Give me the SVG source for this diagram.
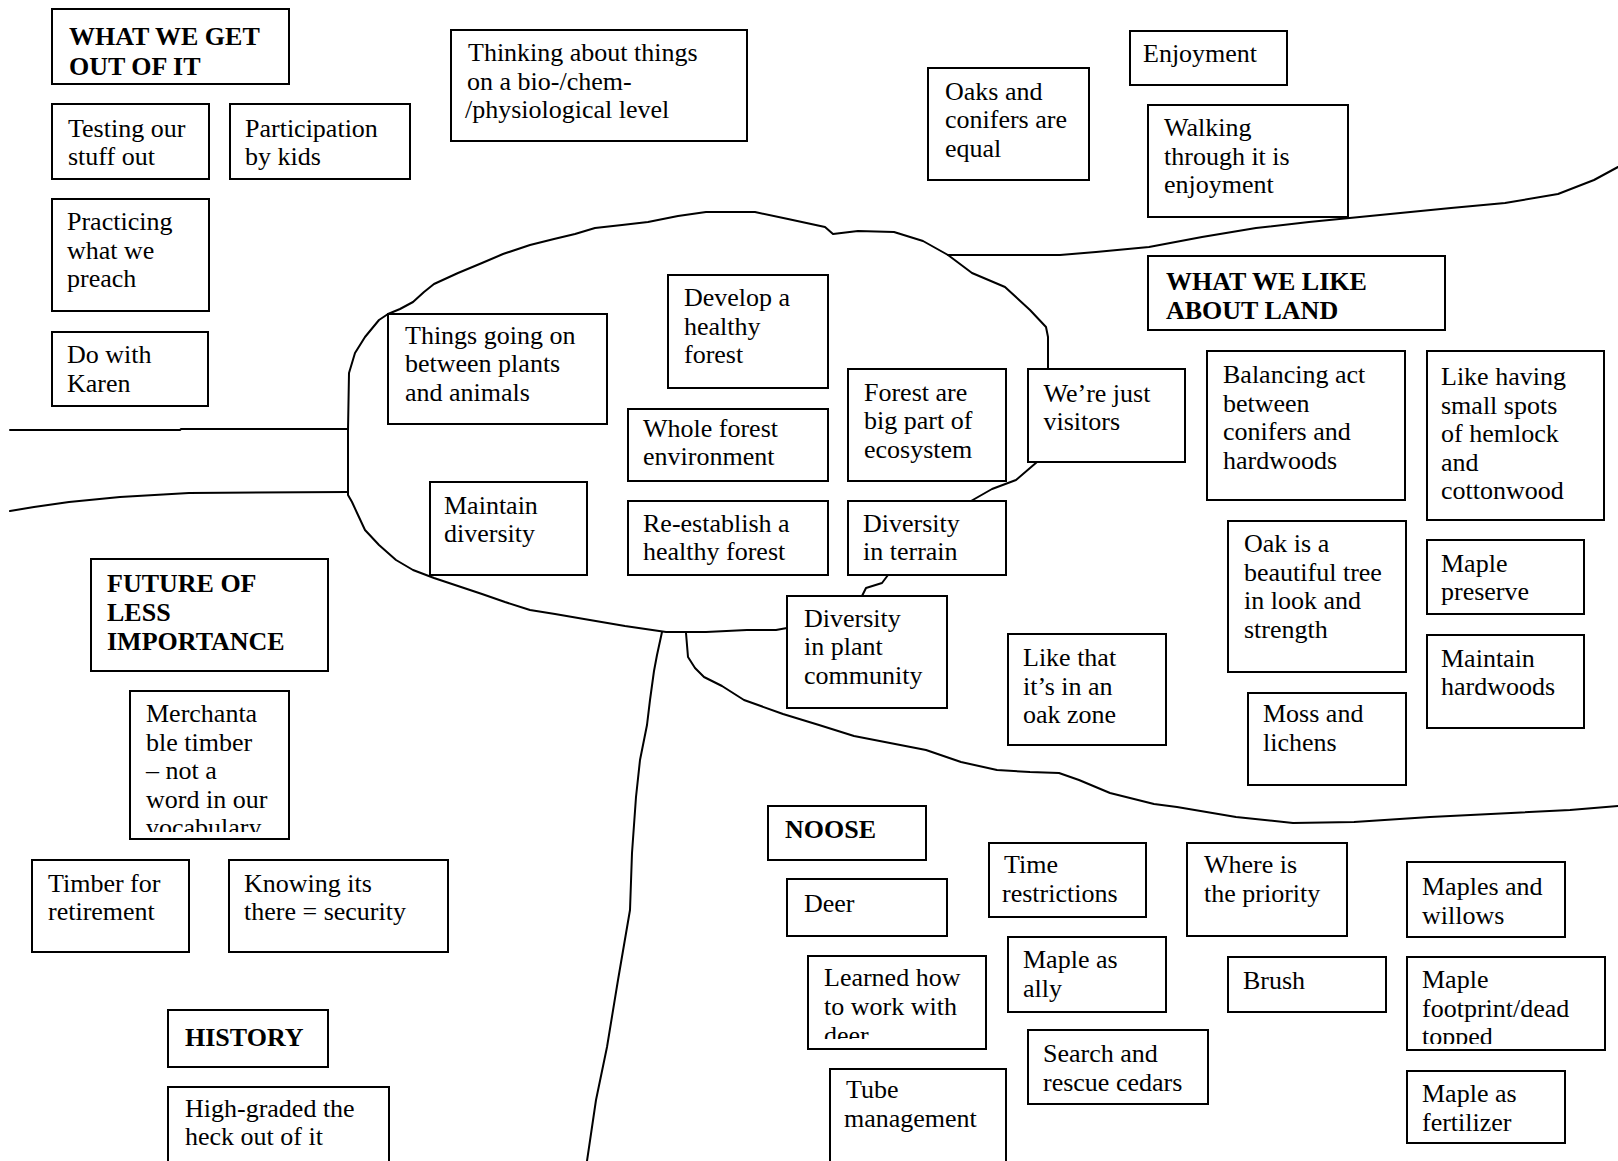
<svg xmlns="http://www.w3.org/2000/svg" width="1618" height="1161" viewBox="0 0 1618 1161">
<style>
.bg{fill:#fff}
.box{fill:#fff;stroke:#000;stroke-width:2}
.t{font-family:"Liberation Serif","Times New Roman",serif;font-size:26px;fill:#000}
.b{font-weight:bold}
.c{fill:none;stroke:#000;stroke-width:2;stroke-linejoin:round;stroke-linecap:round}
</style>
<defs>
<clipPath id="clipMerch"><rect x="130" y="691" width="159" height="141"/></clipPath>
<clipPath id="clipLearned"><rect x="808" y="956" width="178" height="83"/></clipPath>
<clipPath id="clipFoot"><rect x="1407" y="957" width="198" height="87"/></clipPath>
</defs>
<rect class="bg" x="0" y="0" width="1618" height="1161"/>
<g id="connectors">
<path class="c" d="M388,314 L400,309 L413,302 L424,292 L434,284 L458,273 L482,263 L503,254 L530,245 L554,239 L575,234 L595,228 L622,225 L648,222 L678,216 L706,212 L755,212 L788,219 L825,227 L833,234 L858,231 L894,232 L923,241 L948,255 L972,273 L1005,287 L1030,310 L1046,327 L1048,337 L1048,370"/>
<path class="c" d="M388,314 L379,320 L365,337 L355,353 L349,373 L348,430 L348,495 L352,502 L358,515 L365,530 L379,545 L396,560 L413,570 L434,578 L458,586 L482,594 L505,602 L530,610 L555,614 L584,619 L625,626 L666,632 L706,632 L747,630 L776,630 L787,628"/>
<path class="c" d="M10,430 L180,430 L181,429 L348,429"/>
<path class="c" d="M10,511 L34,507 L69,502 L120,497 L189,493 L348,492"/>
<path class="c" d="M662,632 L657,655 L654,671 L650,700 L647,725 L643,745 L640,760 L636,797 L632,853 L630,910 L618,980 L607,1047 L596,1100 L587,1161"/>
<path class="c" d="M686,633 L687,645 L688,657 L695,668 L704,677 L722,686 L744,700 L783,714 L819,725 L854,736 L890,743 L926,750 L961,762 L997,770 L1030,772 L1059,773 L1079,780 L1110,793 L1154,804 L1177,807 L1236,817 L1293,823 L1354,822 L1430,817 L1511,813 L1570,810 L1618,806"/>
<path class="c" d="M948,255 L1000,255 L1060,255 L1096,252 L1149,247 L1202,237 L1256,228 L1309,222 L1380,215 L1451,208 L1505,203 L1558,194 L1594,180 L1618,167"/>
<path class="c" d="M971,501 L992,489 L1016,480 L1037,462"/>
<path class="c" d="M888,575 L882,583 L866,588 L862,596"/>
</g>
<g id="n-what-we-get"><rect class="box" x="52" y="9" width="237" height="75"/><text class="t b"><tspan x="69" y="45">WHAT WE GET</tspan><tspan x="69" y="75">OUT OF IT</tspan></text></g>
<g id="n-testing"><rect class="box" x="52" y="104" width="157" height="75"/><text class="t"><tspan x="68" y="136.5">Testing our</tspan><tspan x="68" y="165">stuff out</tspan></text></g>
<g id="n-participation"><rect class="box" x="230" y="104" width="180" height="75"/><text class="t"><tspan x="245" y="136.5">Participation</tspan><tspan x="245" y="165">by kids</tspan></text></g>
<g id="n-practicing"><rect class="box" x="52" y="199" width="157" height="112"/><text class="t"><tspan x="67" y="230">Practicing</tspan><tspan x="67" y="258.5">what we</tspan><tspan x="67" y="287">preach</tspan></text></g>
<g id="n-karen"><rect class="box" x="52" y="332" width="156" height="74"/><text class="t"><tspan x="67" y="363">Do with</tspan><tspan x="67" y="391.5">Karen</tspan></text></g>
<g id="n-thinking"><rect class="box" x="451" y="30" width="296" height="111"/><text class="t"><tspan x="468" y="61">Thinking about things</tspan><tspan x="467" y="89.5">on a bio-/chem-</tspan><tspan x="465" y="118">/physiological level</tspan></text></g>
<g id="n-oaks"><rect class="box" x="928" y="68" width="161" height="112"/><text class="t"><tspan x="945" y="99.5">Oaks and</tspan><tspan x="945" y="128">conifers are</tspan><tspan x="945" y="156.5">equal</tspan></text></g>
<g id="n-enjoyment"><rect class="box" x="1130" y="31" width="157" height="54"/><text class="t"><tspan x="1143" y="62">Enjoyment</tspan></text></g>
<g id="n-walking"><rect class="box" x="1148" y="105" width="200" height="112"/><text class="t"><tspan x="1164" y="136">Walking</tspan><tspan x="1164" y="164.5">through it is</tspan><tspan x="1164" y="193">enjoyment</tspan></text></g>
<g id="n-what-we-like"><rect class="box" x="1148" y="256" width="297" height="74"/><text class="t b"><tspan x="1166" y="289.5">WHAT WE LIKE</tspan><tspan x="1166" y="318.5">ABOUT LAND</tspan></text></g>
<g id="n-things"><rect class="box" x="388" y="314" width="219" height="110"/><text class="t"><tspan x="405" y="343.5">Things going on</tspan><tspan x="405" y="372">between plants</tspan><tspan x="405" y="400.5">and animals</tspan></text></g>
<g id="n-develop"><rect class="box" x="668" y="275" width="160" height="113"/><text class="t"><tspan x="684" y="306">Develop a</tspan><tspan x="684" y="334.5">healthy</tspan><tspan x="684" y="363">forest</tspan></text></g>
<g id="n-whole"><rect class="box" x="628" y="409" width="200" height="72"/><text class="t"><tspan x="643" y="437">Whole forest</tspan><tspan x="643" y="465">environment</tspan></text></g>
<g id="n-forest-are"><rect class="box" x="848" y="369" width="158" height="112"/><text class="t"><tspan x="864" y="400.5">Forest are</tspan><tspan x="864" y="429">big part of</tspan><tspan x="864" y="457.5">ecosystem</tspan></text></g>
<g id="n-visitors"><rect class="box" x="1028" y="369" width="157" height="93"/><text class="t"><tspan x="1043.5" y="401.5">We’re just</tspan><tspan x="1043.5" y="430">visitors</tspan></text></g>
<g id="n-maintain-div"><rect class="box" x="430" y="482" width="157" height="93"/><text class="t"><tspan x="444" y="513.5">Maintain</tspan><tspan x="444" y="542">diversity</tspan></text></g>
<g id="n-reestablish"><rect class="box" x="628" y="501" width="200" height="74"/><text class="t"><tspan x="643" y="531.5">Re-establish a</tspan><tspan x="643" y="560">healthy forest</tspan></text></g>
<g id="n-terrain"><rect class="box" x="848" y="501" width="158" height="74"/><text class="t"><tspan x="863" y="531.5">Diversity</tspan><tspan x="863" y="560">in terrain</tspan></text></g>
<g id="n-plant-community"><rect class="box" x="787" y="596" width="160" height="112"/><text class="t"><tspan x="804" y="626.5">Diversity</tspan><tspan x="804" y="655">in plant</tspan><tspan x="804" y="683.5">community</tspan></text></g>
<g id="n-balancing"><rect class="box" x="1207" y="351" width="198" height="149"/><text class="t"><tspan x="1223" y="383">Balancing act</tspan><tspan x="1223" y="411.5">between</tspan><tspan x="1223" y="440">conifers and</tspan><tspan x="1223" y="468.5">hardwoods</tspan></text></g>
<g id="n-hemlock"><rect class="box" x="1427" y="351" width="177" height="169"/><text class="t"><tspan x="1441" y="385">Like having</tspan><tspan x="1441" y="413.5">small spots</tspan><tspan x="1441" y="442">of hemlock</tspan><tspan x="1441" y="470.5">and</tspan><tspan x="1441" y="499">cottonwood</tspan></text></g>
<g id="n-oak-beautiful"><rect class="box" x="1228" y="521" width="178" height="151"/><text class="t"><tspan x="1244" y="552">Oak is a</tspan><tspan x="1244" y="580.5">beautiful tree</tspan><tspan x="1244" y="609">in look and</tspan><tspan x="1244" y="637.5">strength</tspan></text></g>
<g id="n-maple-preserve"><rect class="box" x="1427" y="540" width="157" height="74"/><text class="t"><tspan x="1441" y="571.5">Maple</tspan><tspan x="1441" y="600">preserve</tspan></text></g>
<g id="n-maintain-hard"><rect class="box" x="1427" y="635" width="157" height="93"/><text class="t"><tspan x="1441" y="666.5">Maintain</tspan><tspan x="1441" y="695">hardwoods</tspan></text></g>
<g id="n-oak-zone"><rect class="box" x="1008" y="634" width="158" height="111"/><text class="t"><tspan x="1023" y="666">Like that</tspan><tspan x="1023" y="694.5">it’s in an</tspan><tspan x="1023" y="723">oak zone</tspan></text></g>
<g id="n-moss"><rect class="box" x="1248" y="693" width="158" height="92"/><text class="t"><tspan x="1263" y="722">Moss and</tspan><tspan x="1263" y="750.5">lichens</tspan></text></g>
<g id="n-future"><rect class="box" x="91" y="559" width="237" height="112"/><text class="t b"><tspan x="107" y="592">FUTURE OF</tspan><tspan x="107" y="621">LESS</tspan><tspan x="107" y="649.5">IMPORTANCE</tspan></text></g>
<g id="n-merchantable"><rect class="box" x="130" y="691" width="159" height="148"/><text class="t" clip-path="url(#clipMerch)"><tspan x="146" y="722">Merchanta</tspan><tspan x="146" y="750.5">ble timber</tspan><tspan x="146" y="779">– not a</tspan><tspan x="146" y="807.5">word in our</tspan><tspan x="146" y="836">vocabulary</tspan></text></g>
<g id="n-timber"><rect class="box" x="32" y="860" width="157" height="92"/><text class="t"><tspan x="48" y="891.5">Timber for</tspan><tspan x="48" y="920">retirement</tspan></text></g>
<g id="n-knowing"><rect class="box" x="229" y="860" width="219" height="92"/><text class="t"><tspan x="244" y="891.5">Knowing its</tspan><tspan x="244" y="920">there = security</tspan></text></g>
<g id="n-history"><rect class="box" x="168" y="1010" width="160" height="57"/><text class="t b"><tspan x="185" y="1046">HISTORY</tspan></text></g>
<g id="n-high-graded"><rect class="box" x="168" y="1087" width="221" height="84"/><text class="t"><tspan x="185" y="1116.5">High-graded the</tspan><tspan x="185" y="1145">heck out of it</tspan></text></g>
<g id="n-noose"><rect class="box" x="768" y="806" width="158" height="54"/><text class="t b"><tspan x="785" y="837.5">NOOSE</tspan></text></g>
<g id="n-deer"><rect class="box" x="787" y="879" width="160" height="57"/><text class="t"><tspan x="804" y="912">Deer</tspan></text></g>
<g id="n-learned"><rect class="box" x="808" y="956" width="178" height="93"/><text class="t" clip-path="url(#clipLearned)"><tspan x="824" y="986">Learned how</tspan><tspan x="824" y="1015">to work with</tspan><tspan x="824" y="1044">deer</tspan></text></g>
<g id="n-tube"><rect class="box" x="830" y="1069" width="176" height="100"/><text class="t"><tspan x="846" y="1098">Tube</tspan><tspan x="844" y="1127">management</tspan></text></g>
<g id="n-time"><rect class="box" x="989" y="843" width="157" height="74"/><text class="t"><tspan x="1004" y="873">Time</tspan><tspan x="1002" y="901.5">restrictions</tspan></text></g>
<g id="n-maple-ally"><rect class="box" x="1008" y="937" width="158" height="75"/><text class="t"><tspan x="1023" y="968">Maple as</tspan><tspan x="1023" y="996.5">ally</tspan></text></g>
<g id="n-search"><rect class="box" x="1028" y="1030" width="180" height="74"/><text class="t"><tspan x="1043" y="1062">Search and</tspan><tspan x="1043" y="1090.5">rescue cedars</tspan></text></g>
<g id="n-priority"><rect class="box" x="1187" y="843" width="160" height="93"/><text class="t"><tspan x="1204" y="873">Where is</tspan><tspan x="1204" y="901.5">the priority</tspan></text></g>
<g id="n-brush"><rect class="box" x="1228" y="957" width="158" height="55"/><text class="t"><tspan x="1243" y="989">Brush</tspan></text></g>
<g id="n-maples-willows"><rect class="box" x="1407" y="862" width="158" height="75"/><text class="t"><tspan x="1422" y="895">Maples and</tspan><tspan x="1422" y="923.5">willows</tspan></text></g>
<g id="n-maple-footprint"><rect class="box" x="1407" y="957" width="198" height="93"/><text class="t" clip-path="url(#clipFoot)"><tspan x="1422" y="988">Maple</tspan><tspan x="1422" y="1016.5">footprint/dead</tspan><tspan x="1422" y="1045">topped</tspan></text></g>
<g id="n-maple-fertilizer"><rect class="box" x="1407" y="1071" width="158" height="72"/><text class="t"><tspan x="1422" y="1102">Maple as</tspan><tspan x="1422" y="1130.5">fertilizer</tspan></text></g>
</svg>
